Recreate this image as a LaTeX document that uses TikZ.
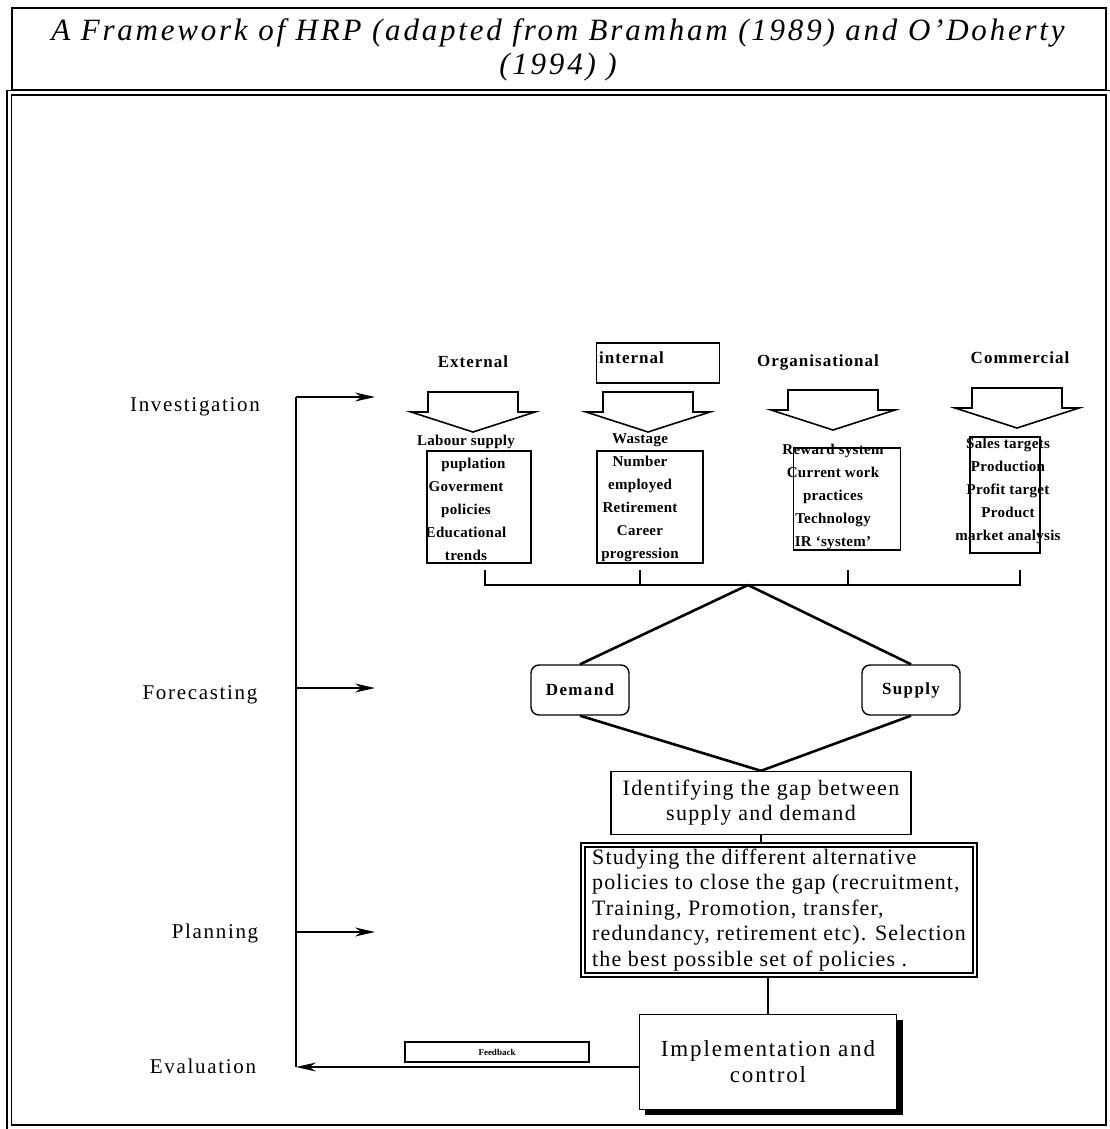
\documentclass[tikz,border=0pt]{standalone}
\usepackage{fontspec}
\setmainfont{Liberation Serif}
\usetikzlibrary{positioning,arrows.meta}

\newcommand{\spaced}[1]{\addfontfeature{LetterSpace=#1}}
% block arrow pointing down, tip at (#1,#2)
\newcommand{\hrpdown}[2]{%
  \draw[line width=1.6pt] (#1-45,#2-40) -- (#1+45,#2-40) -- (#1+45,#2-20) -- (#1+62,#2-20)
    -- (#1,#2) -- (#1-62,#2-20) -- (#1-45,#2-20) -- cycle;}

\tikzset{
  phase/.style={font=\fontsize{21}{24}\selectfont\spaced{8}},
  cathead/.style={font=\fontsize{17}{20}\selectfont\bfseries\spaced{6}},
  listtxt/.style={font=\fontsize{15}{23}\selectfont\bfseries\spaced{2}, align=center, inner sep=0pt},
  listbox/.style={draw, line width=1.4pt, inner sep=0pt},
  endbox/.style={draw, line width=1.4pt, rounded corners=8pt, inner sep=0pt,
    minimum width=98pt, minimum height=50pt,
    font=\fontsize{17}{20}\selectfont\bfseries\spaced{8}},
  stagebox/.style={draw, line width=1.4pt, inner sep=4pt, align=center,
    font=\fontsize{22}{25}\selectfont\spaced{6}},
  flow/.style={line width=1.5pt, -{Stealth[length=20pt, width=9pt]}},
  link/.style={line width=1.5pt},
  bold link/.style={line width=2.6pt}
}

\begin{document}
\begin{tikzpicture}[x=1pt, y=-1pt]
\useasboundingbox (0,0) rectangle (1110,1129);

% title and frame
\draw[line width=1.4pt] (12,8) rectangle (1106,90);
\node[font=\fontsize{31}{34}\selectfont\itshape\spaced{9}, align=center] (title) at (558,50)
  {A Framework of HRP (adapted from Bramham (1989) and O'Doherty\\(1994) )};
\draw[line width=1.2pt, double, double distance=3pt] (9,93) rectangle (1108,1127);

% phases on the left
\node[phase] (inv) at (195,407) {Investigation};
\node[phase] (fore) at (200,695) {Forecasting};
\node[phase] (plan) at (215,933) {Planning};
\node[phase] (eval) at (203,1066) {Evaluation};

\coordinate (s1) at (296,397);
\coordinate (s2) at (296,688);
\coordinate (s3) at (296,932);
\coordinate (s4) at (296,1067);
\coordinate (t1) at (375,397);
\coordinate (t2) at (375,688);
\coordinate (t3) at (375,932);
\draw[link] (s1) -- (s4);
\draw[flow] (s1) -- (t1);
\draw[flow] (s2) -- (t2);
\draw[flow] (s3) -- (t3);

% the four sources
\node[cathead] (ext) at (473,362) {External};
\node[draw, line width=1.4pt, minimum width=123pt, minimum height=40pt] (intbox) at (658,363) {};
\node[cathead, anchor=west, inner sep=0pt] (int) at (599,358) {internal};
\node[cathead] (org) at (818,362) {Organisational};
\node[cathead] (com) at (1020,358) {Commercial};

\hrpdown{473}{432}
\hrpdown{648}{432}
\hrpdown{833}{430}
\hrpdown{1017}{428}

\node[listbox, minimum width=104pt, minimum height=112pt] (extbox) at (479,507) {};
\node[listtxt] (extlist) at (466,498) {Labour supply\\\quad puplation\\Goverment\\policies\\Educational\\trends};
\node[listbox, minimum width=106pt, minimum height=112pt] (intlist) at (650,507) {};
\node[listtxt] (inttxt) at (640,498) {Wastage\\Number\\employed\\Retirement\\Career\\progression};
\node[listbox, minimum width=107pt, minimum height=102pt] (orgbox) at (847,499) {};
\node[listtxt] (orgtxt) at (833,497) {Reward system\\Current work\\practices\\Technology\\IR `system'};
\node[listbox, minimum width=70pt, minimum height=116pt] (combox) at (1005,495) {};
\node[listtxt] (comtxt) at (1008,491) {Sales targets\\Production\\Profit target\\Product\\market analysis};

% bracket joining the sources
\coordinate (b1) at (485,570);
\coordinate (b2) at (640,570);
\coordinate (b3) at (848,570);
\coordinate (b4) at (1020,570);
\coordinate (apex) at (748,585);
\draw[link] (b1) -- (485,585) -- (1020,585) -- (b4);
\draw[link] (b2) -- (640,585);
\draw[link] (b3) -- (848,585);

% demand and supply
\node[endbox] (dem) at (580,690) {Demand};
\node[endbox] (sup) at (911,690) {Supply};
\node[stagebox, minimum width=300pt, minimum height=63pt] (gap) at (761,803)
  {Identifying the gap between\\supply and demand};
\draw[bold link] (apex) -- (dem.north);
\draw[bold link] (apex) -- (sup.north);
\draw[bold link] (dem.south) -- (gap.north);
\draw[bold link] (sup.south) -- (gap.north);

% policies, implementation, feedback
\node[stagebox, double, double distance=2.5pt, align=left,
  minimum width=392pt, minimum height=124pt, font=\fontsize{22}{25.5}\selectfont\spaced{5}] (pol) at (779,910)
  {Studying the different alternative\\policies to close the gap (recruitment,\\Training, Promotion, transfer,\\redundancy, retirement etc). Selection\\the best possible set of policies .};
\draw[link] (gap.south) -- (gap.south |- pol.north);

\node[stagebox, minimum width=257pt, minimum height=95pt,
  font=\fontsize{23}{26}\selectfont\spaced{8}] (impl) at (768,1062)
  {Implementation and\\control};
\fill (impl.north east) ++(0,6) rectangle ([xshift=6pt]impl.south east);
\fill (impl.south west) ++(6,0) rectangle ([shift={(6pt,-5pt)}]impl.south east);
\draw[link] (pol.south -| impl.north) -- (impl.north);
\node[draw, line width=1.2pt, minimum width=184pt, minimum height=20pt, inner sep=0pt,
  font=\fontsize{9}{10}\selectfont\bfseries] (fb) at (497,1052) {Feedback};
\draw[flow] (impl.west |- s4) -- (s4);
\end{tikzpicture}
\end{document}
